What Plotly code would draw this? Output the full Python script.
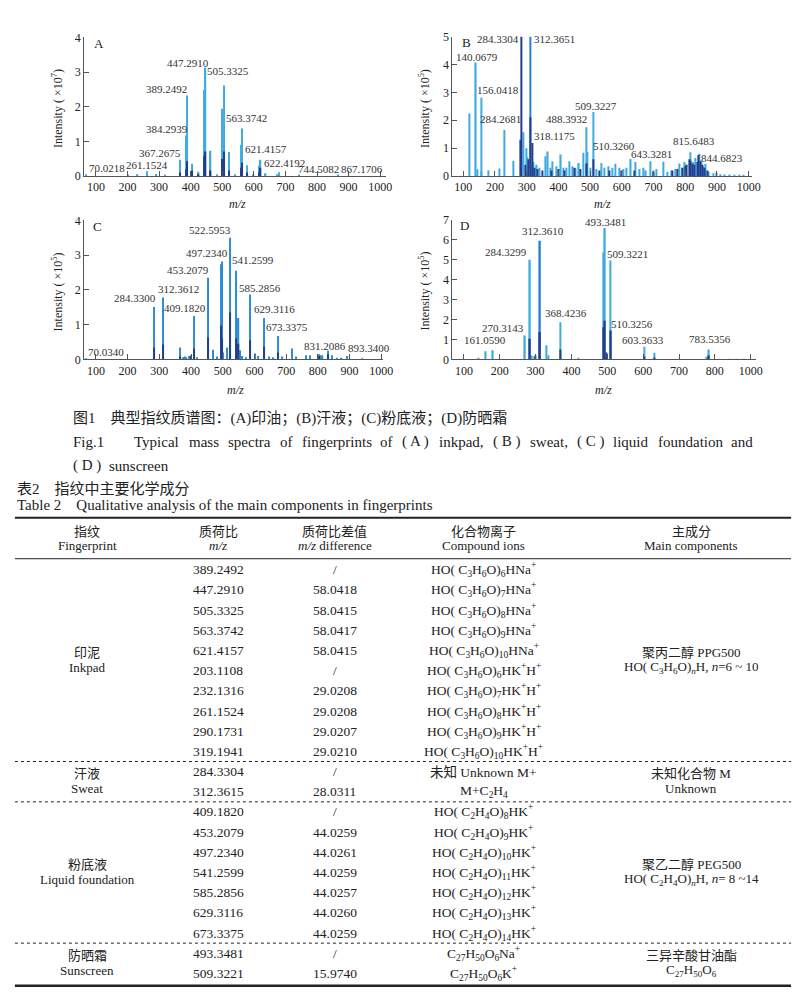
import plotly.graph_objects as go

W, H = 800, 994
SERIF = "Liberation Serif, Noto Sans CJK SC, serif"
LIGHT = "#3eaae2"
MID = "#2a7fcb"
CMID = "#2f8ad4"
DARK = "#223f8c"
AXIS = "#555555"
TXT = "#222222"

# ---------------- Panel A (inkpad), intensity x10^7 ----------------
A_LIGHT_MZ = [70.02, 203.1, 232.1, 261.15, 290.2, 319.2, 367.27, 384.29, 389.25, 405.2, 425.3,
              442.34, 447.29, 463.3, 483.3, 500.38, 505.33, 521.3, 541.3, 558.42, 563.37, 579.35,
              599.4, 616.46, 621.42, 637.4, 674.5, 679.5, 744.5, 867.2]
A_LIGHT_INT = [0.05, 0.04, 0.05, 0.14, 0.06, 0.04, 0.47, 1.17, 2.32, 0.35, 0.12,
               2.48, 3.13, 0.73, 0.05, 1.94, 2.61, 0.69, 0.05, 0.90, 1.37, 0.31,
               0.05, 0.30, 0.47, 0.08, 0.05, 0.11, 0.03, 0.03]
A_DARK_MZ = [367.27, 384.29, 389.25, 405.2, 425.3, 442.34, 447.29, 463.3, 500.38, 505.33,
             521.3, 558.42, 563.37, 579.35, 616.46, 621.42]
A_DARK_INT = [0.10, 0.19, 0.43, 0.16, 0.05, 0.57, 0.71, 0.16, 0.49, 0.71,
              0.16, 0.24, 0.38, 0.10, 0.10, 0.24]
A_LABELS = ["70.0218", "261.1524", "367.2675", "384.2939", "389.2492", "447.2910", "505.3325",
            "563.3742", "621.4157", "622.4192", "744.5082", "867.1706"]
A_LABEL_X = [134, 262.6, 302.6, 326, 322, 390.7, 518.9, 578.3, 637.7, 697, 803.3, 940.9]
A_LABEL_Y = [0.24, 0.33, 0.66, 1.37, 2.51, 3.27, 3.03, 1.66, 0.79, 0.38, 0.19, 0.19]

# ---------------- Panel B (sweat), intensity x10^5 ----------------
B_LIGHT_MZ = [118.7, 140.07, 144.5, 156.04, 158, 180, 213, 230, 258, 290, 299, 303, 318, 322, 330,
              340, 359.5, 367, 376, 382, 394, 408, 415, 425, 434, 444, 455, 465, 479, 488.39, 491,
              500, 509.32, 520, 535, 546, 558, 570, 580, 592, 604, 615, 628.6, 644, 655, 668, 676,
              689, 700, 710, 730, 745, 757, 770, 782, 790, 797, 804, 816, 826, 833, 844.68, 850,
              858, 865, 875, 890, 900, 910, 925, 940, 955, 970, 985]
B_LIGHT_INT = [2.24, 4.07, 0.24, 2.81, 0.18, 0.21, 0.27, 1.65, 0.55, 1.57, 1.00, 0.67, 0.35, 0.50, 0.40,
               0.30, 0.71, 0.88, 0.30, 0.53, 0.35, 0.77, 0.30, 0.30, 0.53, 0.35, 0.28, 0.47, 0.83, 1.75, 0.86,
               0.30, 2.30, 0.25, 0.47, 0.30, 0.35, 0.30, 0.44, 0.30, 0.25, 0.30, 0.61, 0.50, 0.25, 0.30, 0.20,
               0.53, 0.20, 0.25, 0.51, 0.15, 0.20, 0.25, 0.45, 0.30, 0.50, 0.40, 0.85, 0.50, 0.65, 0.80, 0.50,
               0.35, 0.44, 0.15, 0.10, 0.12, 0.06, 0.05, 0.05, 0.04, 0.04, 0.03]
B_MID_MZ = [312.37]
B_MID_INT = [5.6]
B_DARK_MZ = [280, 284.33, 295, 305, 312.37, 318.12, 326, 335, 350, 378, 400, 420, 450, 470, 490,
             510.33, 530, 560, 600, 640, 700, 760, 775, 790, 800, 805, 812, 818, 822, 828, 838, 842,
             848, 855, 862, 870]
B_DARK_INT = [1.30, 5.6, 0.40, 0.60, 2.10, 1.18, 0.30, 0.25, 0.20, 0.20, 0.25, 0.20, 0.30, 0.25, 0.45,
              0.60, 0.20, 0.20, 0.20, 0.20, 0.15, 0.20, 0.25, 0.30, 0.35, 0.40, 0.60, 0.55, 0.45, 0.40, 0.50, 0.75,
              0.55, 0.40, 0.30, 0.20]
B_LABELS = ["284.3304", "312.3651", "140.0679", "156.0418", "284.2681", "318.1175", "488.3932",
            "509.3227", "510.3260", "643.3281", "815.6483", "844.6823"]
B_LABEL_X = [209.9, 386.4, 144.5, 211.1, 216.1, 388.9, 426.9, 519.7, 575.5, 693.8, 827.7, 915.8]
B_LABEL_Y = [4.92, 4.92, 4.28, 3.09, 2.04, 1.45, 2.06, 2.53, 1.06, 0.79, 1.24, 0.65]

# ---------------- Panel C (liquid foundation), intensity x10^5 ----------------
C_MID_MZ = [70.03, 284.33, 312.36, 365, 375, 380, 385, 393, 400, 409.18, 420, 453.21, 468.5, 482,
            493.5, 497.23, 502, 513, 522.6, 541.26, 550, 555, 562, 574, 585.29, 601.6, 612, 629.31,
            645, 660, 673.34, 688, 719, 730, 763.6, 775, 803, 808, 815, 831.21, 845, 860, 875, 893.34, 940]
C_MID_INT = [0.02, 1.51, 1.78, 0.34, 0.06, 0.08, 0.06, 0.10, 0.12, 1.25, 0.06, 2.35, 0.28, 0.08,
             2.74, 2.82, 0.20, 0.34, 3.50, 2.55, 1.19, 0.26, 0.10, 0.06, 1.87, 0.17, 0.10, 1.19,
             0.08, 0.06, 0.67, 0.08, 0.31, 0.08, 0.12, 0.12, 0.15, 0.12, 0.12, 0.25, 0.12, 0.05, 0.05, 0.10, 0.02]
C_DARK_MZ = [284.33, 312.36, 365, 400, 409.18, 453.21, 493.5, 497.23, 522.6, 541.26, 550, 585.29,
             629.31, 673.34, 803, 831.21]
C_DARK_INT = [0.34, 0.43, 0.08, 0.10, 0.31, 0.64, 0.97, 0.60, 1.35, 0.60, 0.45, 0.55,
              0.36, 0.20, 0.10, 0.15]
C_LABELS = ["70.0340", "284.3300", "312.3612", "409.1820", "453.2079", "497.2340", "522.5953",
            "541.2599", "585.2856", "629.3116", "673.3375", "831.2086", "893.3400"]
C_LABEL_X = [131.7, 223, 360, 381.8, 389.6, 451.9, 461.2, 596, 616.9, 662, 702.5, 822.4, 961.6]
C_LABEL_Y = [0.22, 1.78, 2.03, 1.49, 2.57, 3.05, 3.72, 2.85, 2.06, 1.44, 0.92, 0.38, 0.33]

# ---------------- Panel D (sunscreen), intensity x10^5 ----------------
D_LIGHT_MZ = [140, 161.06, 180.7, 270.31, 284.33, 290, 297, 329.5, 336, 368.42, 420, 488.39, 493.35,
              509.32, 603.36, 632, 776, 783.54, 840, 860, 880]
D_LIGHT_INT = [0.05, 0.41, 0.46, 1.20, 4.99, 0.20, 0.15, 0.71, 0.21, 1.86, 0.05, 5.37, 6.59,
               4.96, 0.63, 0.33, 0.13, 0.49, 0.03, 0.03, 0.03]
D_MID_MZ = [312.36]
D_MID_INT = [5.95]
D_DARK_MZ = [284.33, 300, 312.36, 368.42, 488.39, 493.35, 497, 510.33, 603.36, 632, 783.54]
D_DARK_INT = [1.04, 0.20, 1.37, 0.49, 1.61, 1.94, 0.35, 1.45, 0.15, 0.10, 0.20]
D_LABELS = ["161.0590", "270.3143", "284.3299", "312.3610", "368.4236", "493.3481", "509.3221",
            "510.3256", "603.3633", "783.5356"]
D_LABEL_X = [158.2, 209.1, 217.4, 320.4, 383.8, 494, 555.4, 568.4, 600.3, 786.9]
D_LABEL_Y = [0.99, 1.58, 5.4, 6.43, 2.32, 6.89, 5.27, 1.78, 0.99, 1.04]

X_TICKS = [100, 200, 300, 400, 500, 600, 700, 800, 900, 1000]
X_TICK_TEXT = ["100", "200", "300", "400", "500", "600", "700", "800", "900", "1000"]
D_X_TICKS = [100, 200, 300, 400, 500, 600, 700, 800, 900]
D_X_TICK_TEXT = ["100", "200", "300", "400", "500", "600", "700", "800", "1000"]

# ---------------- Captions ----------------
CAP_CN = "图1　典型指纹质谱图：(A)印油；(B)汗液；(C)粉底液；(D)防晒霜"
CAP_EN_WORDS = ["Fig.1", "Typical", "mass", "spectra", "of", "fingerprints", "of", "( A )", "inkpad,",
                "( B )", "sweat,", "( C )", "liquid", "foundation", "and"]
CAP_EN_X = [64, 125.6, 181.2, 220.9, 273, 295.2, 374.8, 397, 434.9, 489.2, 526.3, 573.9, 611, 655.7, 730.3]
CAP_EN2_WORDS = ["( D )", "sunscreen"]
CAP_EN2_X = [64, 100]

# ---------------- Table 2 ----------------
TABLE_MZ = ["389.2492", "447.2910", "505.3325", "563.3742", "621.4157", "203.1108", "232.1316",
            "261.1524", "290.1731", "319.1941", "284.3304", "312.3615", "409.1820", "453.2079",
            "497.2340", "541.2599", "585.2856", "629.3116", "673.3375", "493.3481", "509.3221"]
TABLE_DIFF = ["/", "58.0418", "58.0415", "58.0417", "58.0415", "/", "29.0208", "29.0208", "29.0207",
              "29.0210", "/", "28.0311", "/", "44.0259", "44.0261", "44.0259", "44.0257", "44.0260",
              "44.0259", "/", "15.9740"]
P3 = "HO( C<sub>3</sub>H<sub>6</sub>O)"
E2 = "HO( C<sub>2</sub>H<sub>4</sub>O)"
TABLE_IONS = [P3 + "<sub>6</sub>HNa<sup>+</sup>", P3 + "<sub>7</sub>HNa<sup>+</sup>",
              P3 + "<sub>8</sub>HNa<sup>+</sup>", P3 + "<sub>9</sub>HNa<sup>+</sup>",
              P3 + "<sub>10</sub>HNa<sup>+</sup>", P3 + "<sub>6</sub>HK<sup>+</sup>H<sup>+</sup>",
              P3 + "<sub>7</sub>HK<sup>+</sup>H<sup>+</sup>", P3 + "<sub>8</sub>HK<sup>+</sup>H<sup>+</sup>",
              P3 + "<sub>9</sub>HK<sup>+</sup>H<sup>+</sup>", P3 + "<sub>10</sub>HK<sup>+</sup>H<sup>+</sup>",
              "未知 Unknown M+", "M+C<sub>2</sub>H<sub>4</sub>",
              E2 + "<sub>8</sub>HK<sup>+</sup>", E2 + "<sub>9</sub>HK<sup>+</sup>",
              E2 + "<sub>10</sub>HK<sup>+</sup>", E2 + "<sub>11</sub>HK<sup>+</sup>",
              E2 + "<sub>12</sub>HK<sup>+</sup>", E2 + "<sub>13</sub>HK<sup>+</sup>",
              E2 + "<sub>14</sub>HK<sup>+</sup>",
              "C<sub>27</sub>H<sub>50</sub>O<sub>6</sub>Na<sup>+</sup>",
              "C<sub>27</sub>H<sub>50</sub>O<sub>6</sub>K<sup>+</sup>"]
GROUP_CN = ["印泥", "汗液", "粉底液", "防晒霜"]
GROUP_EN = ["Inkpad", "Sweat", "Liquid foundation", "Sunscreen"]
GROUP_ROWS = [(0, 9), (10, 11), (12, 18), (19, 20)]
MAIN_1 = ["聚丙二醇 PPG500", "未知化合物 M", "聚乙二醇 PEG500", "三异辛酸甘油酯"]
MAIN_2 = ["HO( C<sub>3</sub>H<sub>6</sub>O)<sub><i>n</i></sub>H, <i>n</i>=6 ~ 10", "Unknown",
          "HO( C<sub>2</sub>H<sub>4</sub>O)<sub><i>n</i></sub>H, <i>n</i>= 8 ~14",
          "C<sub>27</sub>H<sub>50</sub>O<sub>6</sub>"]
HEAD_CN = ["指纹", "质荷比", "质荷比差值", "化合物离子", "主成分"]
HEAD_EN = ["Fingerprint", "<i>m/z</i>", "<i>m/z</i> difference", "Compound ions", "Main components"]
COL_X = [80, 213, 331, 482, 692]


def px(x):
    return x / W


def py(y):
    return 1 - y / H


fig = go.Figure()
annotations = []
shapes = []

panels = [
    ("x", "y", [(A_LIGHT_MZ, A_LIGHT_INT, LIGHT), (A_DARK_MZ, A_DARK_INT, DARK)], A_LABELS, A_LABEL_X, A_LABEL_Y),
    ("x2", "y2", [(B_LIGHT_MZ, B_LIGHT_INT, LIGHT), (B_MID_MZ, B_MID_INT, MID), (B_DARK_MZ, B_DARK_INT, DARK)],
     B_LABELS, B_LABEL_X, B_LABEL_Y),
    ("x3", "y3", [(C_MID_MZ, C_MID_INT, CMID), (C_DARK_MZ, C_DARK_INT, DARK)], C_LABELS, C_LABEL_X, C_LABEL_Y),
    ("x4", "y4", [(D_LIGHT_MZ, D_LIGHT_INT, LIGHT), (D_MID_MZ, D_MID_INT, MID), (D_DARK_MZ, D_DARK_INT, DARK)],
     D_LABELS, D_LABEL_X, D_LABEL_Y),
]

for xa, ya, series, labels, lx, lyy in panels:
    for mz, inten, col in series:
        fig.add_trace(go.Bar(x=mz, y=inten, width=4, marker=dict(color=col, line=dict(width=0)),
                             xaxis=xa, yaxis=ya, showlegend=False, hoverinfo="x+y"))
    for t, x, y in zip(labels, lx, lyy):
        annotations.append(dict(x=x, y=y, xref=xa, yref=ya, text=t, showarrow=False,
                                xanchor="center", yanchor="middle",
                                font=dict(family=SERIF, size=11, color="#333")))


def xaxis(dom, rng, anchor, tv=X_TICKS, tt=X_TICK_TEXT):
    return dict(domain=dom, range=rng, anchor=anchor, showline=True, linecolor=AXIS, linewidth=1,
                ticks="inside", ticklen=5, tickcolor=AXIS, tickvals=tv, ticktext=tt,
                tickfont=dict(family=SERIF, size=12, color=TXT), showgrid=False, zeroline=False)


def yaxis(dom, top, anchor):
    return dict(domain=dom, range=[0, top], anchor=anchor, showline=True, linecolor=AXIS, linewidth=1,
                ticks="inside", ticklen=5, tickcolor=AXIS, tickvals=list(range(0, top + 1)),
                tickfont=dict(family=SERIF, size=12, color=TXT), showgrid=False, zeroline=False)


layout = dict(
    width=W, height=H, margin=dict(l=0, r=0, t=0, b=0), paper_bgcolor="white", plot_bgcolor="white",
    barmode="overlay", showlegend=False,
    xaxis=xaxis([px(77), px(383)], [62.5, 1019], "y"),
    yaxis=yaxis([py(163.3), py(22.7)], 4, "x"),
    xaxis2=xaxis([px(450), px(753)], [65.7, 1009.3], "y2"),
    yaxis2=yaxis([py(163.3), py(22)], 5, "x2"),
    xaxis3=xaxis([px(77), px(380)], [62.6, 1006.2], "y3"),
    yaxis3=yaxis([py(349.3), py(208.3)], 4, "x3"),
    xaxis4=xaxis([px(450), px(757)], [67.8, 913.5], "y4", D_X_TICKS, D_X_TICK_TEXT),
    yaxis4=yaxis([py(349.3), py(207.7)], 7, "x4"),
)


def ptext(x, y, text, size=12, anchor="center", angle=0, family=SERIF, color=TXT):
    annotations.append(dict(x=px(x), y=py(y), xref="paper", yref="paper", text=text, showarrow=False,
                            xanchor=anchor, yanchor="middle", textangle=angle,
                            font=dict(family=family, size=size, color=color)))


# panel letters
for (x, y, t) in [(91.7, 29, "A"), (464, 27.7, "B"), (90.7, 215, "C"), (462.3, 214, "D")]:
    ptext(x, y, t, size=13)
# axis titles
for (x, y, t) in [(50, 95, "Intensity ( ×10<sup>7</sup>)"), (421.7, 95, "Intensity ( ×10<sup>5</sup>)"),
                  (50, 281, "Intensity ( ×10<sup>5</sup>)"), (421.7, 280, "Intensity ( ×10<sup>5</sup>)")]:
    ptext(x, y, t, size=12, angle=-90)
for (x, y) in [(232, 192), (602, 192), (230, 380), (603, 380)]:
    ptext(x, y, "<i>m/z</i>", size=12)

# captions
ptext(64, 409, CAP_CN, size=15, anchor="left")
for t, x in zip(CAP_EN_WORDS, CAP_EN_X):
    ptext(x, 433, t, size=15, anchor="left")
for t, x in zip(CAP_EN2_WORDS, CAP_EN2_X):
    ptext(x, 457, t, size=15, anchor="left")
ptext(7, 481, "表2　指纹中主要化学成分", size=15, anchor="left")
ptext(7, 497, "Table 2　Qualitative analysis of the main components in fingerprints", size=15, anchor="left")

# table header
for cx, cn, en in zip(COL_X, HEAD_CN, HEAD_EN):
    ptext(cx, 524, cn, size=13)
    ptext(cx, 538.5, en, size=13)

ROW_Y0, ROW_STEP = 562.7, 20.47
for i, (m, d, ion) in enumerate(zip(TABLE_MZ, TABLE_DIFF, TABLE_IONS)):
    y = ROW_Y0 + i * ROW_STEP
    ptext(COL_X[1], y, m, size=13.5)
    ptext(COL_X[2], y, d, size=13.5)
    ptext(COL_X[3], y, ion, size=13.5)

for (r0, r1), cn, en, m1, m2 in zip(GROUP_ROWS, GROUP_CN, GROUP_EN, MAIN_1, MAIN_2):
    yc = ROW_Y0 + (r0 + r1) / 2 * ROW_STEP
    ptext(COL_X[0], yc - 8, cn, size=13)
    ptext(COL_X[0], yc + 7, en, size=13)
    ptext(COL_X[4], yc - 8, m1, size=13)
    ptext(COL_X[4], yc + 7, m2, size=13)


def hline(y, width=1, dash="solid"):
    shapes.append(dict(type="line", xref="paper", yref="paper", x0=px(7), x1=px(793), y0=py(y), y1=py(y),
                       line=dict(color="#222", width=width, dash=dash)))


hline(510, 2)
hline(551.5, 1)
for (r0, r1) in GROUP_ROWS[:-1]:
    hline(ROW_Y0 + (r1 + 0.5) * ROW_STEP, 1, "dot")
hline(984.5, 2.5)

layout["annotations"] = annotations
layout["shapes"] = shapes
fig.update_layout(**layout)
fig.write_html("out.html")
